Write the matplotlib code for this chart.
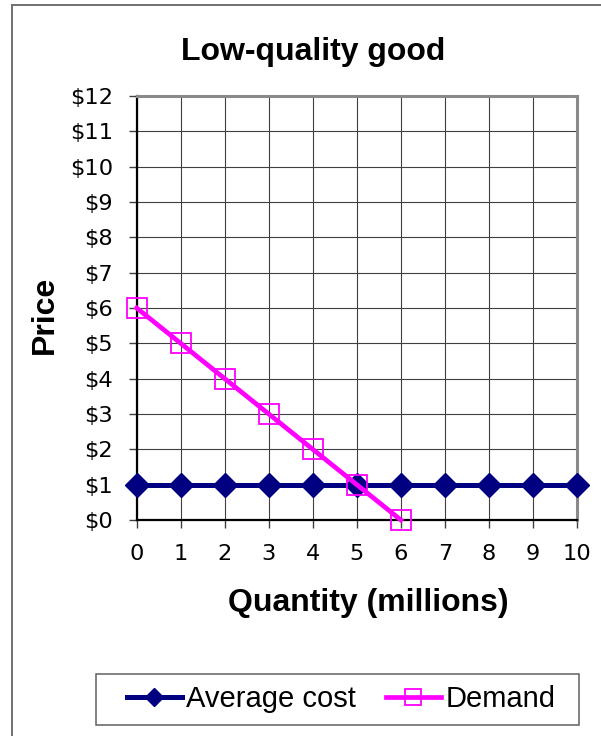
import matplotlib
matplotlib.use("Agg")
import matplotlib.pyplot as plt
from matplotlib.lines import Line2D
from matplotlib.patches import Rectangle

plt.rcParams['font.family'] = ['Liberation Sans', 'DejaVu Sans']

# Data
quantity = [0, 1, 2, 3, 4, 5, 6, 7, 8, 9, 10]
average_cost = [1, 1, 1, 1, 1, 1, 1, 1, 1, 1, 1]
demand_qty = [0, 1, 2, 3, 4, 5, 6]
demand_price = [6, 5, 4, 3, 2, 1, 0]
price_ticks = list(range(0, 13))
price_labels = [f"${p}" for p in price_ticks]

W, H = 601, 736
fig = plt.figure(figsize=(W / 100, H / 100), dpi=100)

# Outer chart-area border (left and top edges)
fig.add_artist(Line2D([12 / W, 12 / W], [0, 1 - 5 / H], color='#707070', lw=1.4,
                      transform=fig.transFigure))
fig.add_artist(Line2D([12 / W, 1], [1 - 5 / H, 1 - 5 / H], color='#707070', lw=1.4,
                      transform=fig.transFigure))

left, right, top, bottom = 136.7, 577, 96, 520
ax = fig.add_axes([left / W, 1 - bottom / H, (right - left) / W, (bottom - top) / H])

ax.plot(quantity, average_cost, color='#000080', lw=3.6, marker='D', ms=12,
        markerfacecolor='#000080', markeredgecolor='#000080', label='Average cost',
        zorder=3, clip_on=False)
ax.plot(demand_qty, demand_price, color='#FF00FF', lw=3.4, marker='s', ms=14.5,
        markerfacecolor='none', markeredgecolor='#FF00FF', markeredgewidth=1.3,
        label='Demand', zorder=4, clip_on=False)

ax.set_xlim(0, 10)
ax.set_ylim(0, 12)
ax.set_xticks(quantity)
ax.set_xticklabels([str(q) for q in quantity])
ax.set_yticks(price_ticks)
ax.set_yticklabels(price_labels)
ax.tick_params(axis='both', direction='out', length=6, width=1, color='#404040',
               labelsize=16.2, pad=11)
for lbl in ax.get_xticklabels() + ax.get_yticklabels():
    lbl.set_fontfamily('DejaVu Sans')
ax.grid(True, color='#404040', lw=0.8)
ax.set_axisbelow(True)

for side in ('left', 'bottom'):
    ax.spines[side].set_color('black')
    ax.spines[side].set_linewidth(1.6)
for side in ('top', 'right'):
    ax.spines[side].set_color('#8a8a8a')
    ax.spines[side].set_linewidth(2.2)

fig.text(313 / W, 1 - 52 / H, 'Low-quality good', ha='center', va='center',
         fontsize=23, fontweight='bold')
fig.text(368 / W, 1 - 603 / H, 'Quantity (millions)', ha='center', va='center',
         fontsize=23, fontweight='bold')
fig.text(45 / W, 1 - 315 / H, 'Price', ha='center', va='center', rotation=90,
         fontsize=23, fontweight='bold')

# Legend frame and entries
fig.add_artist(Rectangle((96 / W, 1 - 725 / H), (579 - 96) / W, (725 - 674) / H,
                         transform=fig.transFigure, fill=False, edgecolor='#606060', lw=1.1))
handles, labels = ax.get_legend_handles_labels()
fig.legend(handles, labels, loc='center', bbox_to_anchor=(341 / W, 1 - 699 / H),
           ncol=2, frameon=False, fontsize=21, handlelength=1.9, handletextpad=0.15,
           columnspacing=1.0, markerscale=0.8)

fig.savefig('out.png', dpi=100)
